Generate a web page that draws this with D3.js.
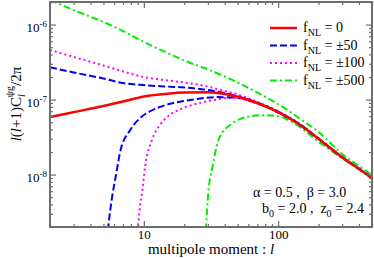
<!DOCTYPE html>
<html>
<head>
<meta charset="utf-8">
<script src="https://cdnjs.cloudflare.com/ajax/libs/d3/7.8.5/d3.min.js"></script>
<style>
  body { margin: 0; background: #fff; }
  text { font-family: "Liberation Serif", "Times New Roman", serif; }
</style>
</head>
<body>
<svg width="374" height="258"></svg>
<script>
  var ells = [2, 3, 5, 7, 10, 15, 20, 30, 40, 50, 70, 100, 150, 200, 300, 400, 500];

  // l(l+1)C_l/2pi, positive fNL branches (and fNL = 0)
  var fnl0    = [5.86e-8, 6.8e-8, 8.2e-8, 9.4e-8, 1.1e-7, 1.2e-7, 1.24e-7, 1.25e-7, 1.19e-7, 1.09e-7, 9.0e-8, 6.8e-8, 4.45e-8, 3.0e-8, 1.7e-8, 1.19e-8, 9.0e-9];
  var fnl50p  = [2.7e-7, 2.3e-7, 1.91e-7, 1.66e-7, 1.56e-7, 1.49e-7, 1.45e-7, 1.34e-7, 1.22e-7, 1.1e-7, 9.1e-8, 6.9e-8, 4.5e-8, 3.02e-8, 1.71e-8, 1.2e-8, 9.05e-9];
  var fnl100p = [4.6e-7, 3.7e-7, 2.85e-7, 2.37e-7, 2.0e-7, 1.8e-7, 1.69e-7, 1.49e-7, 1.3e-7, 1.17e-7, 9.3e-8, 7.0e-8, 4.55e-8, 3.05e-8, 1.72e-8, 1.2e-8, 9.1e-9];
  var fnl500p = [2.13e-6, 1.56e-6, 1.08e-6, 8.2e-7, 5.86e-7, 4.18e-7, 3.32e-7, 2.52e-7, 2.03e-7, 1.69e-7, 1.24e-7, 8.7e-8, 5.35e-8, 3.7e-8, 1.88e-8, 1.3e-8, 9.9e-9];

  // negative fNL branches, they drop to zero at low l
  var ells50m = [5.4, 5.6, 5.8, 6.2, 6.7, 7.9, 9.5, 11, 13, 16.6, 20, 25, 35, 50, 70, 100, 150, 200, 300, 400, 500];
  var fnl50m  = [1.8e-9, 3.2e-9, 5.0e-9, 9.9e-9, 2.1e-8, 3.9e-8, 5.8e-8, 6.9e-8, 7.9e-8, 9.0e-8, 9.6e-8, 1.02e-7, 1.08e-7, 1.06e-7, 8.9e-8, 6.75e-8, 4.4e-8, 2.98e-8, 1.69e-8, 1.19e-8, 9.0e-9];
  var ells100m = [9.0, 9.4, 9.7, 10.2, 11.5, 13.2, 15, 20, 26, 35, 42, 50, 70, 100, 150, 200, 300, 400, 500];
  var fnl100m  = [1.8e-9, 4.0e-9, 5.7e-9, 1.26e-8, 2.9e-8, 4.6e-8, 5.9e-8, 7.8e-8, 9.0e-8, 1.0e-7, 1.05e-7, 1.04e-7, 8.8e-8, 6.7e-8, 4.4e-8, 2.98e-8, 1.69e-8, 1.19e-8, 9.0e-9];
  var ells500m = [29, 29.6, 30.2, 32.4, 36, 44, 52, 62, 78, 100, 130, 200, 300, 400, 500];
  var fnl500m  = [1.8e-9, 3.5e-9, 5.7e-9, 1.26e-8, 2.9e-8, 4.6e-8, 5.5e-8, 6.0e-8, 6.2e-8, 6.0e-8, 4.9e-8, 2.75e-8, 1.65e-8, 1.17e-8, 8.9e-9];

  var legendLabels = ["0", "\u00b150", "\u00b1100", "\u00b1500"];
  var colors = ["#ff0000", "#0000ff", "#ff00ff", "#00ee00"];
  var dashes = [null, "7,3", "2,3", "7,3,2,3"];

  var xMajor = [10, 100];
  var xMinor = [2, 3, 4, 5, 6, 7, 8, 9, 20, 30, 40, 50, 60, 70, 80, 90, 200, 300, 400, 500];
  var yMajor = [1e-8, 1e-7, 1e-6];
  var yMinor = [2e-9, 3e-9, 4e-9, 5e-9, 6e-9, 7e-9, 8e-9, 9e-9, 2e-8, 3e-8, 4e-8, 5e-8, 6e-8, 7e-8, 8e-8, 9e-8,
                2e-7, 3e-7, 4e-7, 5e-7, 6e-7, 7e-7, 8e-7, 9e-7, 2e-6];

  var svg = d3.select("svg");
  var pL = 50, pR = 372, pT = 2, pB = 227;

  var x = d3.scaleLog().domain([2, 500]).range([pL, pR]);
  var y = d3.scaleLog().domain([2e-9, 2e-6]).range([pB, pT]);

  svg.append("clipPath").attr("id", "clip")
    .append("rect").attr("x", pL).attr("y", pT).attr("width", pR - pL).attr("height", pB - pT);

  var line = d3.line()
    .x(function (d) { return x(d[0]); })
    .y(function (d) { return y(d[1]); })
    .curve(d3.curveMonotoneX);

  function pairs(ls, vs) { return ls.map(function (l, i) { return [l, vs[i]]; }); }

  var series = [
    { data: pairs(ells, fnl0), k: 0 },
    { data: pairs(ells, fnl50p), k: 1 },
    { data: pairs(ells50m, fnl50m), k: 1 },
    { data: pairs(ells, fnl100p), k: 2 },
    { data: pairs(ells100m, fnl100m), k: 2 },
    { data: pairs(ells, fnl500p), k: 3 },
    { data: pairs(ells500m, fnl500m), k: 3 }
  ];

  // draw order: green, magenta, blue, red on top
  var order = [5, 6, 3, 4, 1, 2, 0];
  var plot = svg.append("g").attr("clip-path", "url(#clip)");
  order.forEach(function (i) {
    var s = series[i];
    plot.append("path")
      .attr("d", line(s.data))
      .attr("fill", "none")
      .attr("stroke", colors[s.k])
      .attr("stroke-width", s.k == 0 ? 2.5 : 2)
      .attr("stroke-dasharray", dashes[s.k]);
  });

  // axes: ticks inward on all four sides
  var axCol = "#6e6e6e";
  function styleAxis(g) {
    g.attr("font-size", null).attr("font-family", null);
    g.select(".domain").remove();
    g.selectAll("line").attr("stroke", axCol).attr("stroke-width", 1.2);
    g.selectAll("text").attr("fill", "#000").style("font-size", "13px");
  }

  svg.append("g").attr("transform", "translate(0," + pB + ")")
    .call(d3.axisBottom(x).tickValues(xMajor).tickSize(-6).tickPadding(3).tickFormat(d3.format("d"))).call(styleAxis);
  svg.append("g").attr("transform", "translate(0," + pB + ")")
    .call(d3.axisBottom(x).tickValues(xMinor).tickSize(-3).tickFormat("")).call(styleAxis);
  svg.append("g").attr("transform", "translate(0," + pT + ")")
    .call(d3.axisTop(x).tickValues(xMajor).tickSize(-6).tickFormat("")).call(styleAxis);
  svg.append("g").attr("transform", "translate(0," + pT + ")")
    .call(d3.axisTop(x).tickValues(xMinor).tickSize(-3).tickFormat("")).call(styleAxis);

  var yl = svg.append("g").attr("transform", "translate(" + pL + ",0)")
    .call(d3.axisLeft(y).tickValues(yMajor).tickSize(-6).tickPadding(3).tickFormat("")).call(styleAxis);
  yl.selectAll(".tick text").each(function (d) {
    var t = d3.select(this).attr("dy", "0.55em");
    t.append("tspan").text("10");
    t.append("tspan").attr("dy", "-0.6em").style("font-size", "9px").text("-" + Math.round(-Math.log10(d)));
  });
  svg.append("g").attr("transform", "translate(" + pL + ",0)")
    .call(d3.axisLeft(y).tickValues(yMinor).tickSize(-3).tickFormat("")).call(styleAxis);
  svg.append("g").attr("transform", "translate(" + pR + ",0)")
    .call(d3.axisRight(y).tickValues(yMajor).tickSize(-6).tickFormat("")).call(styleAxis);
  svg.append("g").attr("transform", "translate(" + pR + ",0)")
    .call(d3.axisRight(y).tickValues(yMinor).tickSize(-3).tickFormat("")).call(styleAxis);

  // frame
  svg.append("rect")
    .attr("x", pL).attr("y", pT).attr("width", pR - pL).attr("height", pB - pT)
    .attr("fill", "none").attr("stroke", axCol).attr("stroke-width", 2);

  // axis titles
  svg.append("text")
    .attr("x", (pL + pR) / 2).attr("y", 254)
    .attr("text-anchor", "middle").style("font-size", "15px")
    .text("multipole moment : ")
    .append("tspan").style("font-style", "italic").text("l");

  var yt = svg.append("text")
    .attr("transform", "translate(21,104) rotate(-90)")
    .attr("text-anchor", "middle").style("font-size", "15px");
  yt.append("tspan").style("font-style", "italic").text("l");
  yt.append("tspan").text("(");
  yt.append("tspan").style("font-style", "italic").text("l");
  yt.append("tspan").text("+1)C");
  yt.append("tspan").attr("dy", 4).style("font-size", "10px").style("font-style", "italic").text("l");
  yt.append("tspan").attr("dx", -3).attr("dy", -12).style("font-size", "10px").text("\u03c8g");
  yt.append("tspan").attr("dy", 8).text("/2\u03c0");

  // legend
  var lg = svg.append("g");
  legendLabels.forEach(function (lab, i) {
    var ly = 28 + i * 17.5;
    lg.append("line")
      .attr("x1", 270).attr("x2", 297).attr("y1", ly).attr("y2", ly)
      .attr("stroke", colors[i]).attr("stroke-width", i == 0 ? 2.5 : 2)
      .attr("stroke-dasharray", dashes[i]);
    var t = lg.append("text").attr("x", 303).attr("y", ly + 4).style("font-size", "14px");
    t.append("tspan").text("f");
    t.append("tspan").attr("dy", 4).style("font-size", "10px").text("NL");
    t.append("tspan").attr("dy", -4).text(" = " + lab);
  });

  // parameter note
  svg.append("text").attr("x", 253).attr("y", 197).style("font-size", "14px")
    .attr("xml:space", "preserve").text("\u03b1 = 0.5 ,  \u03b2 = 3.0");
  var n2 = svg.append("text").attr("x", 262).attr("y", 213).style("font-size", "14px").attr("xml:space", "preserve");
  n2.append("tspan").text("b");
  n2.append("tspan").attr("dy", 4).style("font-size", "10px").text("0");
  n2.append("tspan").attr("dy", -4).text(" = 2.0 ,  z");
  n2.append("tspan").attr("dy", 4).style("font-size", "10px").text("0");
  n2.append("tspan").attr("dy", -4).text(" = 2.4");
</script>
</body>
</html>
